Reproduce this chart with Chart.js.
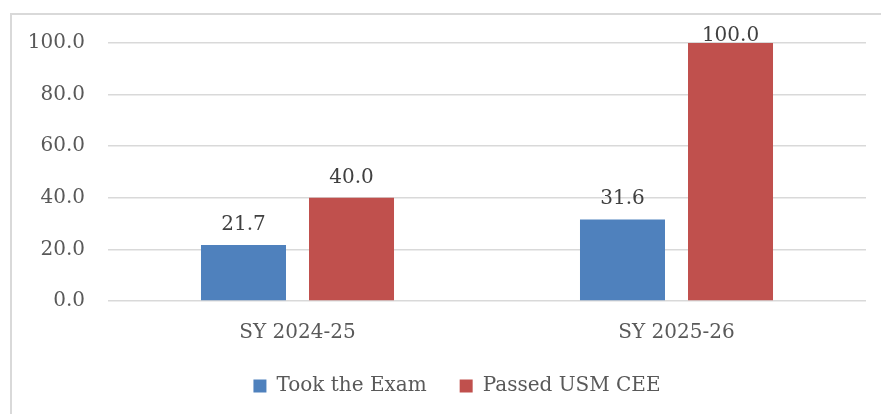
<!DOCTYPE html>
<html>
<head>
<meta charset="utf-8">
<script src="https://cdn.jsdelivr.net/npm/chart.js@4"></script>
<style>
  html, body { margin: 0; padding: 0; background: #fff; overflow: hidden; }
  .frame { position: absolute; left: 10px; top: 13px; width: 1000px; height: 600px; border: 2px solid #d9d9d9; }
  .canvas-container { position: absolute; left: 0; top: 0; width: 881px; height: 414px; }
</style>
</head>
<body>
<div class="frame"></div>
<div class="canvas-container">
  <canvas id="chart"></canvas>
</div>
<script>
const categories = ['SY 2024-25', 'SY 2025-26'];
const seriesNames = ['Took the Exam', 'Passed USM CEE'];
const tookExam = [21.7, 31.6];
const passedCee = [40.0, 100.0];
const yTicks = [0, 20, 40, 60, 80, 100];

const colors = ['#4f81bd', '#c0504d'];
const fontFamily = '"DejaVu Serif", "Liberation Serif", serif';
const fontSize = 20;

// draws the value above each bar, kept inside the top of the plot
const barValueLabels = {
    id: 'barValueLabels',
    afterDatasetsDraw(chart) {
        const ctx = chart.ctx;
        ctx.save();
        ctx.font = fontSize + 'px ' + fontFamily;
        ctx.fillStyle = '#404040';
        ctx.textAlign = 'center';
        ctx.textBaseline = 'alphabetic';
        chart.data.datasets.forEach((ds, i) => {
            chart.getDatasetMeta(i).data.forEach((bar, j) => {
                const y = Math.max(bar.y - 15, chart.chartArea.top - 2);
                ctx.fillText(ds.data[j].toFixed(1), bar.x, y);
            });
        });
        ctx.restore();
    }
};

// nudge the legend a bit to the right, like the original
const legendShift = {
    id: 'legendShift',
    afterLayout(chart) {
        chart.legend.left += 11;
        chart.legend.right += 11;
    }
};

const datasets = [tookExam, passedCee].map((values, index) => ({
    label: seriesNames[index],
    data: values,
    backgroundColor: colors[index],
    categoryPercentage: 0.57,
    barPercentage: 0.787,
}));

new Chart(document.getElementById('chart').getContext('2d'), {
    type: 'bar',
    data: {
        labels: categories,
        datasets: datasets
    },
    plugins: [barValueLabels, legendShift],
    options: {
        responsive: true,
        maintainAspectRatio: false,
        animation: false,
        layout: {
            padding: {left: 26, right: 15, top: 43, bottom: 8}
        },
        plugins: {
            legend: {
                position: 'bottom',
                labels: {
                    boxWidth: 13,
                    boxHeight: 13,
                    padding: 33,
                    color: '#595959',
                    font: {family: fontFamily, size: fontSize}
                }
            },
            tooltip: {enabled: false}
        },
        scales: {
            x: {
                afterFit(scale) { scale.height = 42; },
                grid: {display: false},
                border: {display: false},
                ticks: {
                    color: '#595959',
                    padding: 12,
                    font: {family: fontFamily, size: fontSize}
                }
            },
            y: {
                min: 0,
                max: 100,
                afterFit(scale) { scale.width = 82; },
                afterBuildTicks(scale) { scale.ticks = yTicks.map(v => ({value: v})); },
                grid: {color: '#d9d9d9', lineWidth: 1.5, drawTicks: false},
                border: {display: false},
                ticks: {
                    color: '#595959',
                    padding: 23,
                    font: {family: fontFamily, size: fontSize},
                    callback: (value) => Number(value).toFixed(1)
                }
            }
        }
    }
});
</script>
</body>
</html>
